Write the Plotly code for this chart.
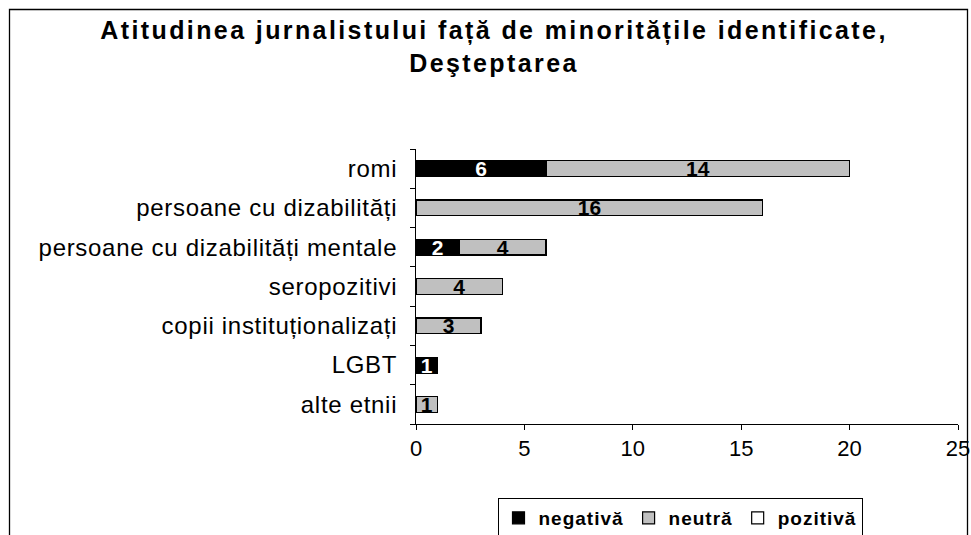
import plotly.graph_objects as go

categories = ["romi", "persoane cu dizabilități", "persoane cu dizabilități mentale",
              "seropozitivi", "copii instituționalizați", "LGBT", "alte etnii"]
negativa = [6, 0, 2, 0, 0, 1, 0]
neutra = [14, 16, 4, 4, 3, 0, 1]
pozitiva = [0, 0, 0, 0, 0, 0, 0]
x_ticks = [0, 5, 10, 15, 20, 25]
series_names = ["negativă", "neutră", "pozitivă"]

FONT = "Liberation Sans, Arial, sans-serif"

def spaced(t, ls):
    return f"<span style='letter-spacing:{ls}px'>{t}</span>"

def labels(vals):
    return [str(v) if v else "" for v in vals]

W, H = 971, 535
L, R, T, B = 416, 971 - 958, 149, 111
pw, ph = W - L - R, H - T - B

def px(xw):
    return (xw - L) / pw

def py(yw):
    return (H - B - yw) / ph

fig = go.Figure()
styles = [("#000000", "#FFFFFF"), ("#C0C0C0", "#000000"), ("#FFFFFF", "#000000")]
for name, vals, (color, tcolor) in zip(series_names, [negativa, neutra, pozitiva], styles):
    fig.add_trace(go.Bar(
        y=categories, x=vals, name=spaced(name, 1), orientation="h",
        marker=dict(color=color, line=dict(color="#000000", width=1.2)),
        text=labels(vals), textposition="inside", insidetextanchor="middle",
        textangle=0, constraintext="none",
        textfont=dict(family=FONT, size=21, color=tcolor, weight="bold"),
        width=0.4,
    ))

fig.update_layout(
    barmode="stack",
    width=W, height=H,
    margin=dict(l=L, r=R, t=T, b=B, autoexpand=False),
    paper_bgcolor="white", plot_bgcolor="white",
    font=dict(family=FONT, color="#000000"),
    title=dict(text=spaced("<b>Atitudinea jurnalistului față de minoritățile identificate,<br>Deşteptarea</b>", 2.4),
               x=494 / W, xanchor="center", y=1 - 39 / H, yanchor="top",
               font=dict(family=FONT, size=25, color="#000000")),
    showlegend=True,
    legend=dict(orientation="h", x=px(680), xanchor="center", y=py(498), yanchor="top",
                font=dict(family=FONT, size=19, color="#000000", weight="bold"),
                bordercolor="#000000", borderwidth=1, bgcolor="white",
                itemwidth=30, traceorder="normal", tracegroupgap=0),
    xaxis=dict(range=[0, 25], tickvals=x_ticks, ticktext=[str(v) for v in x_ticks],
               showgrid=False, zeroline=False, showline=True, linecolor="#000000", linewidth=1,
               ticks="outside", ticklen=5, tickcolor="#000000",
               tickfont=dict(family=FONT, size=22, color="#000000")),
    yaxis=dict(autorange="reversed", showgrid=False, showline=True, linecolor="#000000", linewidth=1,
               ticks="outside", ticklen=5, tickcolor="#000000", tickson="boundaries",
               tickvals=categories, ticktext=[spaced(c, 0.7) for c in categories],
               ticklabelstandoff=13, automargin=False,
               tickfont=dict(family=FONT, size=24, color="#000000")),
    shapes=[dict(type="rect", xref="paper", yref="paper",
                 x0=px(9.5), x1=px(967.5), y0=py(545), y1=py(9.5),
                 line=dict(color="#000000", width=1.3), fillcolor="rgba(0,0,0,0)", layer="above")],
)

fig.write_html("out.html", config={"displayModeBar": False},
               post_script="document.body.style.margin='0';document.body.style.overflow='hidden';")
